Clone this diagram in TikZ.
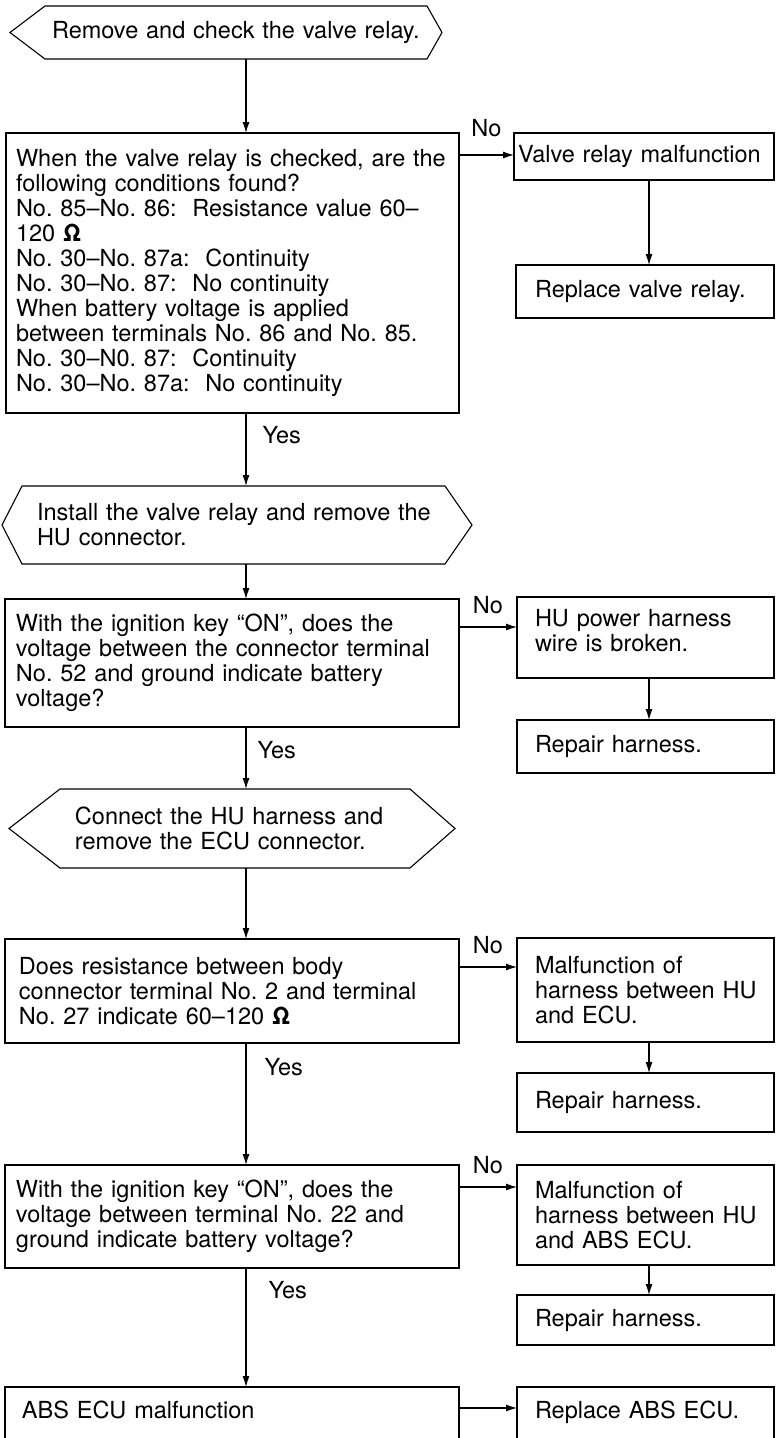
\documentclass[tikz,border=0pt]{standalone}
\usepackage{fontspec}
\setmainfont{TeX Gyre Heros}
\usetikzlibrary{arrows.meta,calc}
\frenchspacing
\begin{document}
\begin{tikzpicture}[x=1pt,y=-1pt,
  every node/.style={font=\fontsize{23.5}{25}\selectfont},
  line/.style={line width=1.1pt},
  arr/.style={line width=1.1pt,-{Latex[length=11pt,width=7pt]}},
  % rectangle of width #1 and height #2, text indented by #3
  box/.style n args={3}{draw,line width=1.1pt,rectangle,anchor=north west,
    inner xsep=0pt,inner ysep=0pt,outer sep=0pt,
    minimum width=#1,text width=#1,minimum height=#2,align=left,
    execute at begin node={\leftskip=#3\relax}},
  % frame-less holder for the hexagonal step boxes
  hexbox/.style n args={3}{rectangle,anchor=north west,
    inner xsep=0pt,inner ysep=0pt,outer sep=0pt,
    minimum width=#1,text width=#1,minimum height=#2,align=left,
    execute at begin node={\leftskip=#3\relax}},
  lab/.style={inner sep=0pt},
]
\useasboundingbox (0,0) rectangle (779,1438);

\coordinate (spine) at (246,0);
\coordinate (rspine) at (649,0);

% ---- step 1
\node[hexbox={432pt}{53pt}{42pt}] (h1) at (10,6) {Remove and check the valve relay.};
\draw[line] (h1.west) -- ([xshift=35pt]h1.north west) -- ([xshift=-15pt]h1.north east)
  -- (h1.east) -- ([xshift=-15pt]h1.south east) -- ([xshift=35pt]h1.south west) -- cycle;

\node[box={453pt}{280pt}{10pt}] (b1) at (6,133)
 {When the valve relay is checked, are the\\
  following conditions found?\\
  No. 85–No. 86: \ Resistance value 60–\\
  120 \textbf{Ω}\\
  No. 30–No. 87a: \ Continuity\\
  No. 30–No. 87: \ No continuity\\
  When battery voltage is applied\\
  between terminals No. 86 and No. 85.\\
  No. 30–N0. 87: \ Continuity\\
  No. 30–No. 87a: \ No continuity};

\node[box={260pt}{47pt}{4pt}] (r1) at (514,133) {Valve relay malfunction};
\node[box={258pt}{53pt}{19pt}] (r2) at (516,265) {Replace valve relay.};

% ---- step 2
\node[hexbox={470pt}{78pt}{35pt}] (h2) at (2,486)
 {Install the valve relay and remove the\\HU connector.};
\draw[line] (h2.west) -- ([xshift=20pt]h2.north west) -- ([xshift=-27pt]h2.north east)
  -- (h2.east) -- ([xshift=-27pt]h2.south east) -- ([xshift=20pt]h2.south west) -- cycle;

\node[box={454pt}{128pt}{11pt}] (b2) at (5,599)
 {With the ignition key “ON”, does the\\
  voltage between the connector terminal\\
  No. 52 and ground indicate battery\\
  voltage?};

\node[box={257pt}{81pt}{18pt},text depth=39pt] (r3) at (517,597)
 {HU power harness\\wire is broken.};
\node[box={257pt}{53pt}{18pt}] (r4) at (517,720) {Repair harness.};

% ---- step 3
\node[hexbox={446pt}{79pt}{66pt}] (h3) at (9,789)
 {Connect the HU harness and\\remove the ECU connector.};
\draw[line] (h3.west) -- ([xshift=51pt]h3.north west) -- ([xshift=-45pt]h3.north east)
  -- (h3.east) -- ([xshift=-45pt]h3.south east) -- ([xshift=51pt]h3.south west) -- cycle;

\node[box={454pt}{104pt}{14pt}] (b3) at (5,939)
 {Does resistance between body\\
  connector terminal No. 2 and terminal\\
  No. 27 indicate 60–120 \textbf{Ω}};

\node[box={257pt}{104pt}{18pt}] (r5) at (517,938)
 {Malfunction of\\harness between HU\\and ECU.};
\node[box={257pt}{59pt}{18pt}] (r6) at (517,1073) {Repair harness.};

% ---- step 4
\node[box={454pt}{103pt}{11pt}] (b4) at (5,1165)
 {With the ignition key “ON”, does the\\
  voltage between terminal No. 22 and\\
  ground indicate battery voltage?};

\node[box={257pt}{100pt}{18pt}] (r7) at (517,1165)
 {Malfunction of\\harness between HU\\and ABS ECU.};
\node[box={257pt}{50pt}{18pt}] (r8) at (517,1295) {Repair harness.};

% ---- result
\node[box={454pt}{60pt}{17pt},text depth=14pt] (b5) at (5,1387) {ABS ECU malfunction};
\node[box={257pt}{60pt}{18pt},text depth=14pt] (r9) at (517,1387) {Replace ABS ECU.};

% ---- main column connectors
\draw[arr] (h1.south -| spine) -- (b1.north -| spine);
\draw[arr] (b1.south -| spine) -- node[lab,pos=0.3,right=16pt]{Yes} (h2.north -| spine);
\draw[arr] (h2.south -| spine) -- (b2.north -| spine);
\draw[arr] (b2.south -| spine) -- node[lab,pos=0.37,right=11pt]{Yes} (h3.north -| spine);
\draw[arr] (h3.south -| spine) -- (b3.north -| spine);
\draw[arr] (b3.south -| spine) -- node[lab,pos=0.2,right=18pt]{Yes} (b4.north -| spine);
\draw[arr] (b4.south -| spine) -- node[lab,pos=0.185,right=22pt]{Yes} (b5.north -| spine);

% ---- "No" branches
\coordinate (n1) at ([yshift=-22pt]b1.north east);
\coordinate (n2) at ([yshift=-28pt]b2.north east);
\coordinate (n3) at ([yshift=-28pt]b3.north east);
\coordinate (n4) at ([yshift=-22pt]b4.north east);
\coordinate (n5) at ([yshift=-21pt]b5.north east);
\draw[arr] (n1) -- node[lab,above=18pt]{No} (n1 -| r1.west);
\draw[arr] (n2) -- node[lab,above=13pt]{No} (n2 -| r3.west);
\draw[arr] (n3) -- node[lab,above=13pt]{No} (n3 -| r5.west);
\draw[arr] (n4) -- node[lab,above=13pt]{No} (n4 -| r7.west);
\draw[arr] (n5) -- (n5 -| r9.west);

% ---- right column connectors
\draw[arr] (r1.south -| rspine) -- (r2.north -| rspine);
\draw[arr] (r3.south -| rspine) -- (r4.north -| rspine);
\draw[arr] (r5.south -| rspine) -- (r6.north -| rspine);
\draw[arr] (r7.south -| rspine) -- (r8.north -| rspine);
\end{tikzpicture}
\end{document}
